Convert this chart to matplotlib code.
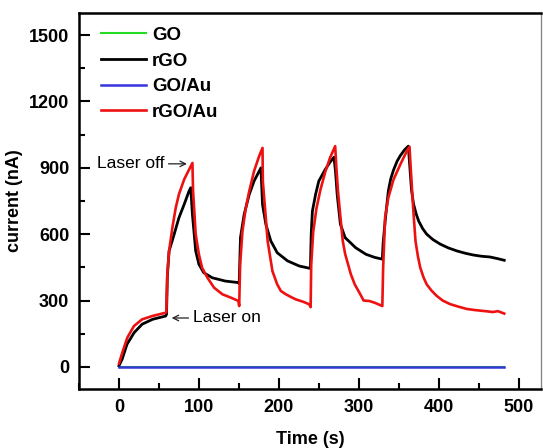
import matplotlib
matplotlib.use("Agg")
import matplotlib.pyplot as plt
from matplotlib.ticker import MultipleLocator

plt.rcParams['font.family'] = ['Liberation Sans', 'DejaVu Sans']

# values: time (s) / current (nA)
t_rgo = [0, 4, 10, 19, 29, 42, 58.5, 59.5,
         60.5, 62.7, 69, 75, 81.5, 87.7, 89.8,
         91.9, 96, 100, 106, 116.6, 133, 149.5,
         150.4, 152, 156.6, 163, 169, 177.6,
         179.6, 183.8, 190, 198, 211, 225.6, 239.5,
         240.5, 242, 246, 250, 258, 264, 269,
         271, 273, 277, 283, 290, 296, 309, 320, 329.5,
         330.5, 333, 337, 340, 343.5, 348, 352, 357, 362,
         364, 366, 368.6, 372, 375, 380, 385, 393, 402, 412, 423,
         433, 443, 454, 464, 473, 482]
i_rgo = [5, 35, 102, 155, 193, 215, 230, 238,
         408, 524, 599, 674, 734, 795, 810,
         689, 524, 464, 426, 403, 388, 381,
         376, 584, 689, 780, 840, 900,
         734, 644, 569, 516, 479, 456, 445,
         600, 704, 780, 840, 892, 925, 948,
         880, 780, 645, 584, 560, 539, 509, 495, 487,
         560, 659, 795, 850, 890, 930, 955, 980, 998,
         900, 800, 735, 690, 659, 625, 600, 575, 555, 538, 524,
         514, 506, 500, 497, 490, 482]

t_rgo_au = [0, 4.2, 10.4, 18.8, 29, 41.7, 58.5, 59.3,
            60.5, 62.7, 66.8, 71, 75, 81.5, 87.7, 91.9,
            92.7, 96, 100, 104, 110.7, 119, 129.5, 140, 149.5,
            150.4, 151.6, 154.5, 158.7, 163, 169, 175.4, 179.6,
            180, 186, 192, 198, 202.6, 208.9, 214, 221.4, 230, 238, 239.8,
            240.5, 243, 247, 252, 258, 264, 270.5,
            272, 274, 277, 280, 283, 286.6, 290, 295, 303, 306, 313, 320, 329.5,
            330.5, 333, 337, 343.5, 352, 360, 363.5,
            365, 367, 369, 371, 374, 377, 381, 385, 391, 397.5, 405, 414,
            425, 435, 445, 455.6, 468, 474, 482]
i_rgo_au = [15, 65, 132, 185, 215, 230, 245, 248,
            418, 524, 629, 719, 780, 847, 892, 922,
            795, 599, 509, 448, 403, 358, 328, 313, 298,
            275, 464, 614, 719, 795, 885, 953, 990,
            840, 569, 433, 373, 343, 328, 318, 305, 295, 283, 270,
            460, 610, 715, 800, 880, 945, 998,
            900, 795, 680, 569, 510, 464, 420, 373, 321, 300, 298, 290, 275,
            448, 677, 765, 847, 915, 975, 995,
            900, 780, 670, 569, 500, 448, 405, 373, 345, 321, 300, 284,
            272, 262, 257, 253, 248, 252, 241]

t_go = [0, 482]
i_go = [0, 0]
t_go_au = [0, 482]
i_go_au = [0, 0]

fig = plt.figure(figsize=(5.43, 4.48), dpi=100)
ax = fig.add_axes([0.1455, 0.1317, 0.8508, 0.8393])

ax.plot(t_go, i_go, color='#22dd22', lw=1.5, label='GO')
ax.plot(t_rgo, i_rgo, color='black', lw=2, label='rGO')
ax.plot(t_go_au, i_go_au, color='#3535dd', lw=1.8, label='GO/Au')
ax.plot(t_rgo_au, i_rgo_au, color='#ee1111', lw=1.9, label='rGO/Au')

ax.set_xlim(-50, 528)
ax.set_ylim(-100, 1600)
ax.xaxis.set_major_locator(MultipleLocator(100))
ax.xaxis.set_minor_locator(MultipleLocator(50))
ax.yaxis.set_major_locator(MultipleLocator(300))
ax.yaxis.set_minor_locator(MultipleLocator(150))
ax.tick_params(which='both', direction='in', width=1.5, top=False, right=False,
               labelsize=13)
ax.tick_params(which='major', length=8, pad=7)
ax.tick_params(which='minor', length=4)
for lab in ax.get_xticklabels() + ax.get_yticklabels():
    lab.set_fontweight('bold')

for side in ['left', 'bottom', 'top']:
    ax.spines[side].set_linewidth(1.8)
ax.spines['right'].set_linewidth(1)
ax.spines['right'].set_color('#888888')

ax.set_xlabel('Time (s)', fontsize=13, fontweight='bold', labelpad=11)
ax.set_ylabel('current (nA)', fontsize=13, fontweight='bold', labelpad=4)

# laser annotations
ax.text(-28, 918, 'Laser off', fontsize=12.5, va='center', ha='left')
ax.annotate('', xy=(85, 918), xytext=(62, 918),
            arrowprops=dict(arrowstyle='->', lw=0.9, color='#222222',
                            shrinkA=0, shrinkB=0))
ax.text(93, 221, 'Laser on', fontsize=12.5, va='center', ha='left')
ax.annotate('', xy=(66, 221), xytext=(87, 221),
            arrowprops=dict(arrowstyle='->', lw=0.9, color='#222222',
                            shrinkA=0, shrinkB=0))

leg = ax.legend(loc='upper left', frameon=False, fontsize=13.5, handlelength=2.4,
                handletextpad=0.3, labelspacing=0.45, borderaxespad=0.3,
                bbox_to_anchor=(0.02, 0.998))
for txt in leg.get_texts():
    txt.set_fontweight('bold')

fig.savefig('out.png', dpi=100)
